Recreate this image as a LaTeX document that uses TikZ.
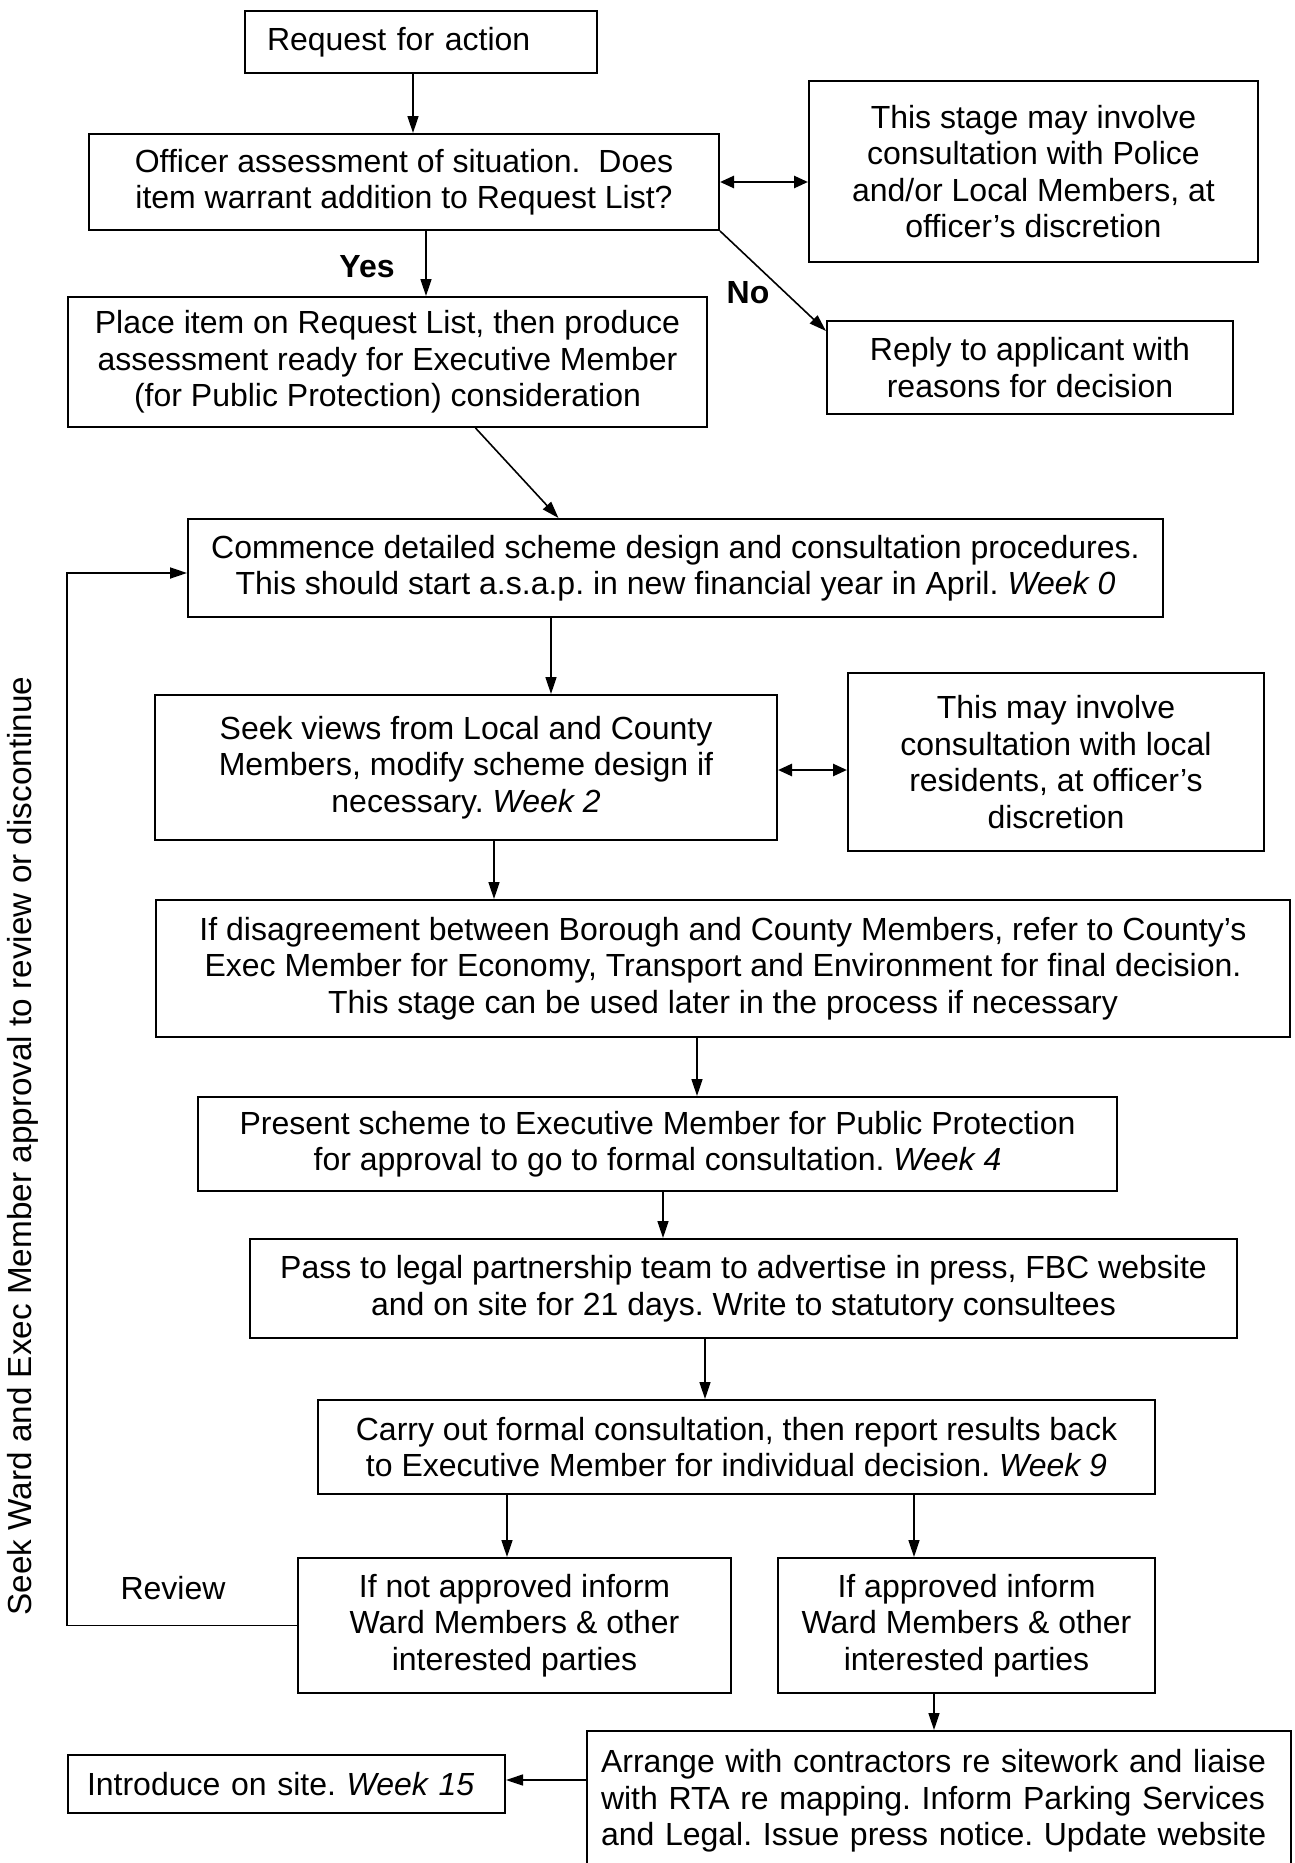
\documentclass[tikz,border=0pt]{standalone}
\usepackage{fontspec}
\setmainfont{Liberation Sans}
\usetikzlibrary{arrows.meta}
\begin{document}
\frenchspacing
\begin{tikzpicture}[x=1pt,y=-1pt,
  txt/.style={font=\fontsize{32}{36.5}\selectfont},
  box/.style={txt, draw, line width=2pt, inner sep=0pt, align=center},
  lab/.style={txt, inner sep=0pt},
  conn/.style={line width=1.6pt, -{Triangle[length=17pt,width=11pt]}},
  dbl/.style={line width=2.6pt, {Triangle[length=14pt,width=12pt]}-{Triangle[length=14pt,width=12pt]}}]
\useasboundingbox (0,0) rectangle (1294,1863);
\fill[white] (0,0) rectangle (1294,1863);
\clip (0,0) rectangle (1294,1863);

% boxes
\node[box, minimum width=352pt, minimum height=62pt, text width=308pt, align=left] (req) at (421,42) {Request for action};
\node[box, minimum width=630pt, minimum height=96pt] (off) at (404,182) {Officer assessment of situation.\ \ Does\\item warrant addition to Request List?};
\node[box, minimum width=449pt, minimum height=181pt] (pol) at (1033.5,171.5) {This stage may involve\\consultation with Police\\and/or Local Members, at\\officer's discretion};
\node[box, minimum width=639pt, minimum height=130pt] (place) at (387.5,362) {Place item on Request List, then produce\\assessment ready for Executive Member\\(for Public Protection) consideration};
\node[box, minimum width=406pt, minimum height=93pt] (reply) at (1030,367.5) {Reply to applicant with\\reasons for decision};
\node[box, minimum width=975pt, minimum height=98pt] (comm) at (675.5,568) {Commence detailed scheme design and consultation procedures.\\This should start a.s.a.p. in new financial year in April. \textit{Week 0}};
\node[box, minimum width=622pt, minimum height=145pt] (seek) at (466,767.5) {Seek views from Local and County\\Members, modify scheme design if\\necessary. \textit{Week 2}};
\node[box, minimum width=416pt, minimum height=178pt] (res) at (1056,762) {This may involve\\consultation with local\\residents, at officer's\\discretion};
\node[box, minimum width=1134pt, minimum height=137pt] (dis) at (723,968.5) {If disagreement between Borough and County Members, refer to County’s\\Exec Member for Economy, Transport and Environment for final decision.\\This stage can be used later in the process if necessary};
\node[box, minimum width=919pt, minimum height=94pt] (pres) at (657.5,1144) {Present scheme to Executive Member for Public Protection\\for approval to go to formal consultation. \textit{Week 4}};
\node[box, minimum width=987pt, minimum height=99pt] (pass) at (743.5,1288.5) {Pass to legal partnership team to advertise in press, FBC website\\and on site for 21 days. Write to statutory consultees};
\node[box, minimum width=837pt, minimum height=94pt] (carry) at (736.5,1447) {Carry out formal consultation, then report results back\\to Executive Member for individual decision. \textit{Week 9}};
\node[box, minimum width=433pt, minimum height=135pt] (notap) at (514.5,1625.5) {If not approved inform\\Ward Members \& other\\interested parties};
\node[box, minimum width=377pt, minimum height=135pt] (ap) at (966.5,1625.5) {If approved inform\\Ward Members \& other\\interested parties};
\node[box, anchor=north west, minimum width=704pt, minimum height=140pt, text width=676pt, align=left] (arr) at (586,1730) {Arrange with contractors re sitework and liaise\\with RTA re mapping. Inform Parking Services\\and Legal. Issue press notice. Update website};
\node[box, minimum width=437pt, minimum height=58pt, text width=399pt, align=left] (intro) at (286.5,1784) {Introduce on site. \textit{Week 15}};

% labels
\node[lab, font=\fontsize{32}{36.5}\selectfont\bfseries] (yes) at (367,267) {Yes};
\node[lab, font=\fontsize{32}{36.5}\selectfont\bfseries] (no) at (748,293) {No};
\node[lab] (review) at (173,1588) {Review};
\node[lab, font=\fontsize{33.3}{38}\selectfont, rotate=90] (side) at (23,1146) {Seek Ward and Exec Member approval to review or discontinue};

% connectors
\coordinate (a1) at ([xshift=-8pt]req.south);
\draw[conn] (a1) -- (a1 |- off.north);
\draw[dbl] (off.east) -- (off.east -| pol.west);
\coordinate (a2) at ([xshift=22pt]off.south);
\draw[conn] (a2) -- (a2 |- place.north);
\draw[conn] (off.south east) -- ([yshift=-11pt]reply.north west);
\draw[conn] ([xshift=88pt]place.south) -- ([xshift=-117pt]comm.north);
\coordinate (a3) at ([xshift=-124.5pt]comm.south);
\draw[conn] (a3) -- (a3 |- seek.north);
\coordinate (d2) at ([yshift=-2.5pt]seek.east);
\draw[dbl] (d2) -- (d2 -| res.west);
\coordinate (a4) at ([xshift=28pt]seek.south);
\draw[conn] (a4) -- (a4 |- dis.north);
\coordinate (a5) at ([xshift=-26pt]dis.south);
\draw[conn] (a5) -- (a5 |- pres.north);
\coordinate (a6) at ([xshift=5.5pt]pres.south);
\draw[conn] (a6) -- (a6 |- pass.north);
\coordinate (a7) at ([xshift=-38.5pt]pass.south);
\draw[conn] (a7) -- (a7 |- carry.north);
\coordinate (a8) at ([xshift=-229.5pt]carry.south);
\draw[conn] (a8) -- (a8 |- notap.north);
\coordinate (a9) at ([xshift=177.5pt]carry.south);
\draw[conn] (a9) -- (a9 |- ap.north);
\coordinate (a10) at ([xshift=-32.5pt]ap.south);
\draw[conn] (a10) -- (a10 |- arr.north);
\coordinate (ai) at ([yshift=4pt]intro.east);
\draw[conn] (ai -| arr.west) -- (ai);
\coordinate (fb) at ([yshift=-5pt]comm.west);
\draw[conn, line width=1.8pt] (notap.west) -- ++(-230,0) |- (fb);
\end{tikzpicture}
\end{document}
